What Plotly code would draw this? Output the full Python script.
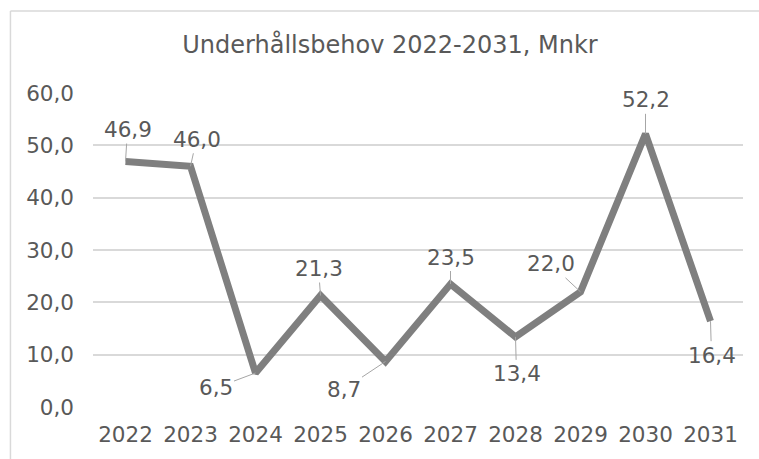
import plotly.graph_objects as go

years = ["2022", "2023", "2024", "2025", "2026", "2027", "2028", "2029", "2030", "2031"]
values = [46.9, 46.0, 6.5, 21.3, 8.7, 23.5, 13.4, 22.0, 52.2, 16.4]
value_labels = ["46,9", "46,0", "6,5", "21,3", "8,7", "23,5", "13,4", "22,0", "52,2", "16,4"]
# label offsets in pixels (dx, dy) from the point, as placed in the reference
label_dx = [2, 6, -40, -2, -42, 0, 1, -30, 0, 1]
label_dy = [-32, -27, 15, -27, 28, -27, 37, -28, -34, 34]
y_ticks = [0, 10, 20, 30, 40, 50, 60]

FONT = "DejaVu Sans"
TXT = "#595959"

fig = go.Figure()
fig.add_trace(go.Scatter(
    x=years, y=values, mode="lines",
    line=dict(color="#7f7f7f", width=7),
    hoverinfo="skip", showlegend=False,
))

for i, (v, lab, dx, dy) in enumerate(zip(values, value_labels, label_dx, label_dy)):
    fig.add_annotation(
        x=i, y=v, xref="x", yref="y", text=lab,
        showarrow=True, arrowhead=0, arrowwidth=1, arrowcolor="#a6a6a6",
        ax=dx, ay=dy, standoff=0, startstandoff=0,
        font=dict(family=FONT, size=21.5, color=TXT),
    )

# chart border (left and top edges visible)
fig.add_shape(type="line", xref="paper", yref="paper",
              x0=-0.127, x1=-0.127, y0=-0.3, y1=1.261,
              line=dict(color="#d9d9d9", width=1.5))
fig.add_shape(type="line", xref="paper", yref="paper",
              x0=-0.127, x1=1.2, y0=1.261, y1=1.261,
              line=dict(color="#d9d9d9", width=1.5))

fig.update_layout(
    width=759, height=459,
    margin=dict(l=93, r=16, t=93, b=50),
    paper_bgcolor="white", plot_bgcolor="white",
    separators=", ",
    title=dict(text="Underhållsbehov 2022-2031, Mnkr",
               x=390 / 759, xanchor="center", xref="container",
               y=1 - 45 / 459, yanchor="middle", yref="container",
               font=dict(family=FONT, size=24, color=TXT)),
    font=dict(family=FONT, color=TXT),
)
fig.update_xaxes(type="category", range=[-0.5, len(years) - 0.5],
                 showgrid=False, zeroline=False, showline=False,
                 ticks="", tickfont=dict(family=FONT, size=21.5, color=TXT),
                 ticklabelstandoff=12)
fig.update_yaxes(range=[0, 60], tickvals=y_ticks, tickformat=".1f",
                 showgrid=True, gridcolor="#d9d9d9", gridwidth=1.5,
                 zeroline=False, showline=False, ticks="",
                 tickfont=dict(family=FONT, size=21.5, color=TXT),
                 ticklabelstandoff=18)

fig.write_html("out.html")
